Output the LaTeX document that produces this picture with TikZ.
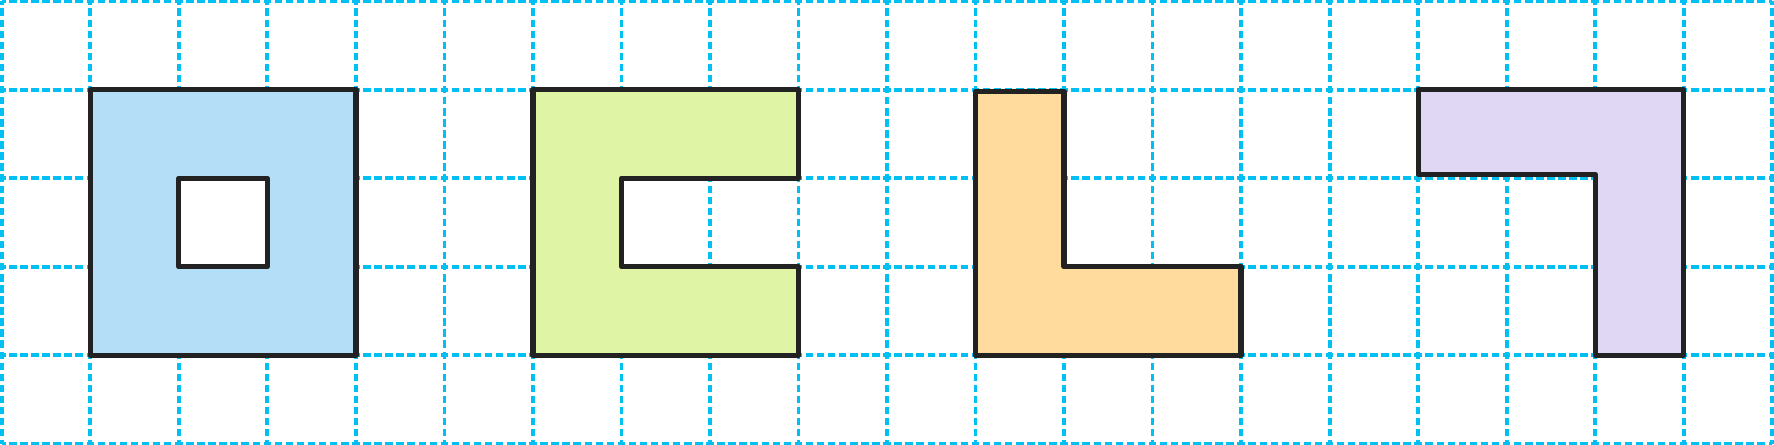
\documentclass[tikz,border=0pt]{standalone}
\definecolor{gridc}{HTML}{00BFF3}
\definecolor{edgec}{HTML}{222222}
\definecolor{bluef}{HTML}{B4DEF8}
\definecolor{greenf}{HTML}{DFF5A5}
\definecolor{orangef}{HTML}{FFDC9E}
\definecolor{purplef}{HTML}{E0D7F4}
\tikzset{
  gridline/.style={draw=gridc, line width=1.2pt, dash pattern=on 2.4pt off 1.1566pt, dash phase=1.2pt},
  shapeline/.style={draw=edgec, line width=1.7pt, line join=round}
}
\begin{document}
\begin{tikzpicture}
\useasboundingbox (-0.02,-0.013) rectangle (20.02,5.013);
\foreach \x in {0,...,20} \draw[gridline] (\x,0) -- (\x,5);
\foreach \y in {0,...,5} \draw[gridline] (0,\y) -- (20,\y);
% square with hole
\filldraw[shapeline, fill=bluef, even odd rule] (1,1) rectangle (4,4) (2,2) rectangle (3,3);
% C shape
\filldraw[shapeline, fill=greenf] (9,4) -- (6,4) -- (6,1) -- (9,1) -- (9,2) -- (7,2) -- (7,3) -- (9,3) -- cycle;
% L shape
\filldraw[shapeline, fill=orangef] (11,3.98) -- (11,1) -- (14,1) -- (14,2) -- (12,2) -- (12,3.98) -- cycle;
% 7 shape
\filldraw[shapeline, fill=purplef] (16,4) -- (19,4) -- (19,1) -- (18,1) -- (18,3.045) -- (16,3.045) -- cycle;
\end{tikzpicture}
\end{document}
